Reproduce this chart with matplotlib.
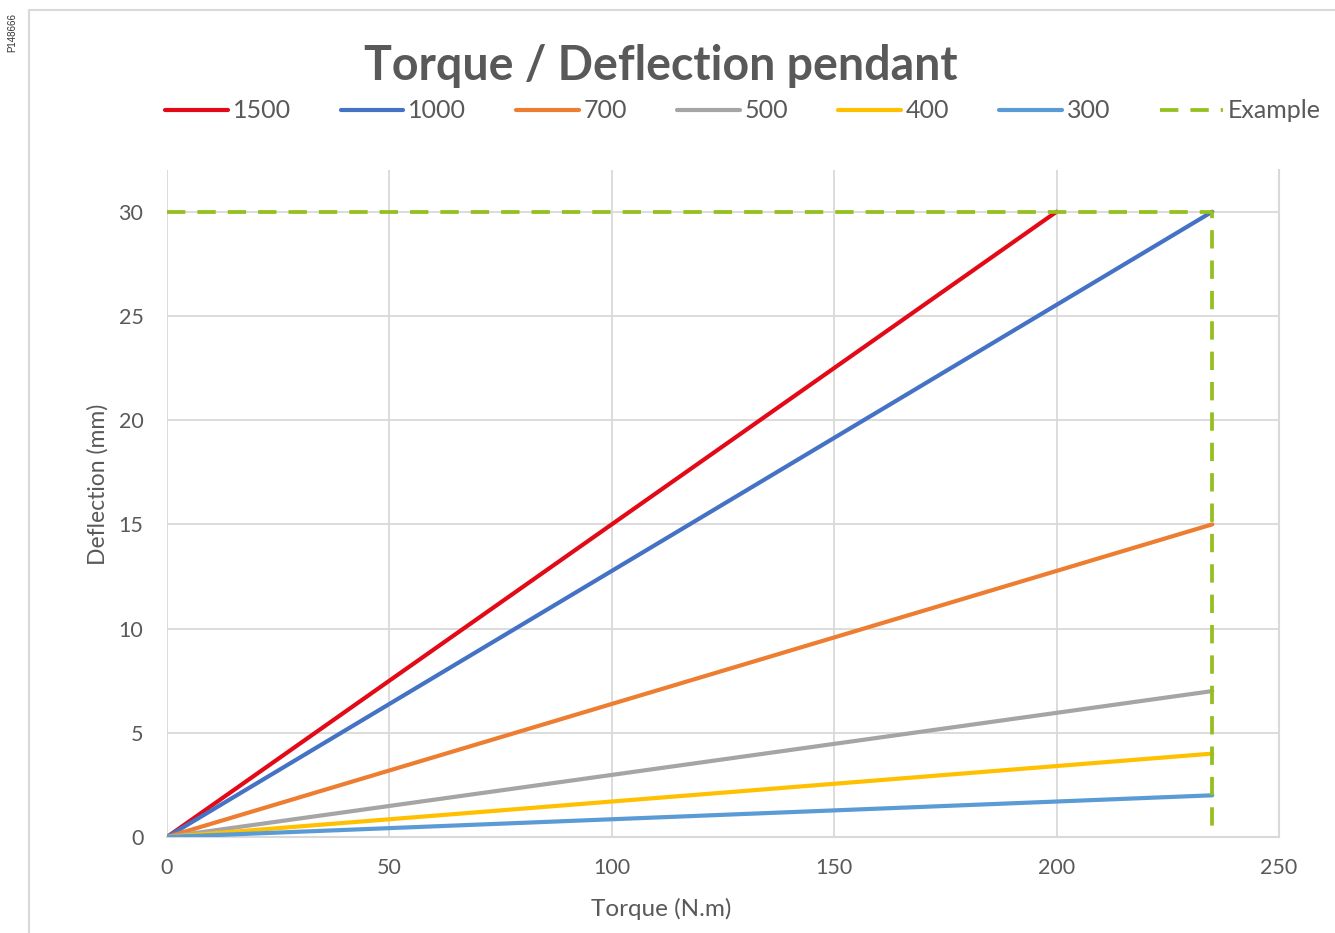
import matplotlib
matplotlib.use("Agg")
import matplotlib.pyplot as plt
from matplotlib.patches import Rectangle

# données
series_names = ["1500", "1000", "700", "500", "400", "300"]
series_x = [[0, 200], [0, 235], [0, 235], [0, 235], [0, 235], [0, 235]]
series_y = [[0, 30], [0, 30], [0, 15], [0, 7], [0, 4], [0, 2]]
series_colors = ["#E30A17", "#4472C4", "#ED7D31", "#A5A5A5", "#FFC000", "#5B9BD5"]

example_x = [0, 235, 235]
example_y = [30, 30, 0]

x_ticks = [0, 50, 100, 150, 200, 250]
y_ticks = [0, 5, 10, 15, 20, 25, 30]

grey_txt = "#595959"
plt.rcParams["font.family"] = ["Lato", "DejaVu Sans"]

fig = plt.figure(figsize=(13.35, 9.33), dpi=100)
ax = fig.add_axes([167 / 1335, 1 - 837 / 933, (1279 - 167) / 1335, (837 - 170) / 933])

# bordure de la zone de graphique (style Excel)
fig.add_artist(Rectangle((29 / 1335, -0.05), 1.2, 1.05 - 10 / 933,
                         transform=fig.transFigure, fill=False,
                         edgecolor="#D9D9D9", linewidth=1.5))
fig.text(12 / 1335, 1 - 32 / 933, "P148666", rotation=90, fontsize=7,
         ha="center", va="center", color="#333333", family=["Liberation Sans", "DejaVu Sans"])

for name, xs, ys, c in zip(series_names, series_x, series_y, series_colors):
    ax.plot(xs, ys, color=c, linewidth=3.0, label=name, solid_capstyle="round", zorder=3)

ax.plot(example_x, example_y, color="#93C01F", linewidth=2.7, dashes=(4.9, 3.2),
        label="Example", zorder=4)

ax.set_xlim(0, 250)
ax.set_ylim(0, 32)
ax.set_xticks(x_ticks)
ax.set_yticks(y_ticks)
ax.grid(True, color="#D9D9D9", linewidth=1.3)
ax.set_axisbelow(True)
ax.tick_params(length=0, labelsize=15.5, labelcolor=grey_txt)
ax.tick_params(axis="y", pad=17)
ax.tick_params(axis="x", pad=15)
for side in ["top", "left"]:
    ax.spines[side].set_visible(False)
for side in ["right", "bottom"]:
    ax.spines[side].set_color("#D9D9D9")
    ax.spines[side].set_linewidth(1.5)

ax.set_xlabel("Torque (N.m)", fontsize=17.5, color=grey_txt)
ax.set_ylabel("Deflection (mm)", fontsize=16.5, color=grey_txt)
# Excel centre les titres d'axe sur la zone de graphique, pas sur le tracé
ax.xaxis.set_label_coords((661 - 167) / 1112, -(909 - 837) / 667)
ax.yaxis.set_label_coords(-(167 - 98) / 1112, (837 - 484) / 667)
ax.xaxis.label.set_va("center")
ax.yaxis.label.set_va("center")

fig.text(661 / 1335, 1 - 66 / 933, "Torque / Deflection pendant", fontsize=33.5,
         fontweight="bold", color=grey_txt, ha="center", va="center")

handles, labels = ax.get_legend_handles_labels()
fig.legend(handles, labels, loc="center", bbox_to_anchor=(743 / 1335, 1 - 111 / 933),
           ncol=7, frameon=False, fontsize=18, handlelength=2.5, handletextpad=0.2,
           columnspacing=2.0, labelcolor=grey_txt)

fig.savefig("out.png", dpi=100)
